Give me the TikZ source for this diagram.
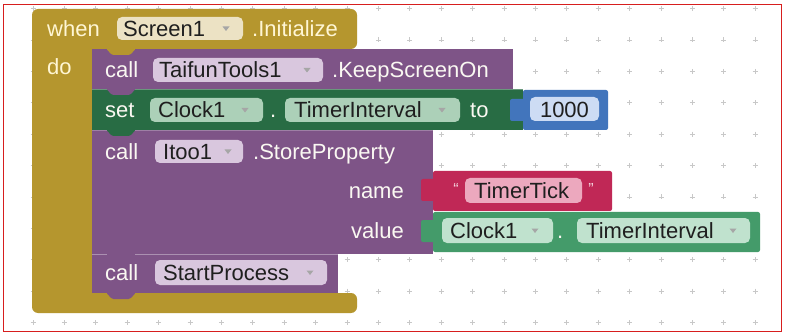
\documentclass[tikz,border=0pt]{standalone}
\usepackage{fontspec}
\setmainfont{Liberation Sans}
\definecolor{ctrl}{RGB}{181,150,46}
\definecolor{ctrlpill}{RGB}{236,226,196}
\definecolor{proc}{RGB}{126,84,135}
\definecolor{procpill}{RGB}{217,199,222}
\definecolor{setg}{RGB}{40,108,68}
\definecolor{setpill}{RGB}{172,208,184}
\definecolor{getg}{RGB}{68,155,106}
\definecolor{getpill}{RGB}{192,226,206}
\definecolor{mathb}{RGB}{66,117,188}
\definecolor{mathpill}{RGB}{205,220,244}
\definecolor{txtr}{RGB}{192,40,86}
\definecolor{txtpill}{RGB}{236,168,190}
\definecolor{labw}{RGB}{250,248,242}
\definecolor{goldtxt}{RGB}{255,246,212}
\definecolor{gridc}{RGB}{200,200,200}
\definecolor{framec}{RGB}{215,30,30}
\newcommand\ddarr[1]{\fill[black!35] (#1) +(-3.5,-2) -- +(3.5,-2) -- +(0,2.5) -- cycle;}
\newcommand\nubtab[3]{\fill[#1, rounded corners=1.5pt, shift={(#2,#3)}] (14,-0.5) -- (44,-0.5) -- (38,6) -- (20,6) -- cycle;}
\begin{document}
\begin{tikzpicture}[x=1pt,y=-1pt,
  lab/.style={anchor=base west, inner sep=0pt, font=\fontsize{22}{26}\selectfont, text=labw},
  glab/.style={lab, text=goldtxt},
  ptxt/.style={lab, text=black!88},
  pillbox/.style={rounded corners=5pt},
  quot/.style={anchor=base, inner sep=0pt, font=\fontsize{16}{18}\selectfont, text=white!80!txtr}]
\fill[white] (0,0) rectangle (785,334);
% grid
\foreach \i in {0,...,23}{
  \foreach \j in {-1,...,9}{
    \draw[gridc, line width=0.8pt] ({33+31.4*\i},{40+31.4*\j}) +(-2.5,0) -- +(2.5,0) +(0,-2.5) -- +(0,2.5);
  }
}
\draw[framec, line width=1.2pt] (3.5,4.5) rectangle (781.5,331.5);

% event block
\fill[ctrl, rounded corners=6pt] (32,9) -- (357,9) -- (357,49) -- (92,49) -- (92,293) -- (357,293) -- (357,313) -- (32,313) -- cycle;

% statement blocks
\fill[proc] (92,49) rectangle (513,89);
\nubtab{ctrl}{92}{49}
\fill[setg] (92,89) rectangle (523,130);
\draw[setg!70!white, line width=0.8pt] (92,89.5) -- (523,89.5);
\nubtab{proc}{92}{89}
\fill[proc] (92,130) rectangle (433,254);
\draw[proc!75!white, line width=0.8pt] (92,130.5) -- (433,130.5);
\nubtab{setg}{92}{130}
\fill[proc] (92,254) rectangle (338,293);
\draw[proc!65!white, line width=0.8pt] (92,254.5) -- (338,254.5);
\nubtab{proc}{92}{254}
\nubtab{proc}{92}{293}

% value blocks
\fill[mathb, rounded corners=2pt] (510,99) rectangle (526,121);
\fill[mathb, rounded corners=2pt] (523,90) rectangle (608,130);
\fill[txtr, rounded corners=2pt] (421,179) rectangle (436,201);
\fill[txtr, rounded corners=2pt] (433,171) rectangle (612,211);
\fill[getg, rounded corners=2pt] (421,220) rectangle (436,242);
\fill[getg, rounded corners=2pt] (433,212) rectangle (760,252);

% pills
\fill[ctrlpill, pillbox] (117,17) rectangle (243,40);
\fill[procpill, pillbox] (153,58) rectangle (323,82);
\fill[setpill, pillbox] (150,98) rectangle (263,122);
\fill[setpill, pillbox] (285,98) rectangle (460,122);
\fill[mathpill, pillbox] (530,97) rectangle (599,121);
\fill[procpill, pillbox] (155,140) rectangle (243,163);
\fill[txtpill, pillbox] (465,178) rectangle (582,203);
\fill[getpill, pillbox] (442,218) rectangle (553,243);
\fill[getpill, pillbox] (577,218) rectangle (750,243);
\fill[procpill, pillbox] (155,260) rectangle (327,285);

% arrows
\ddarr{226,28.5}
\ddarr{307,70}
\ddarr{245,110}
\ddarr{442,110}
\ddarr{228,151.5}
\ddarr{535,230.5}
\ddarr{733,230.5}
\ddarr{310,272.5}

% labels
\node[glab] (when) at (47,36.5) {when};
\node[ptxt] (scr) at (123,36.5) {Screen1};
\node[glab] (init) at (252,36.5) {.Initialize};
\node[glab] (do) at (47,75) {do};

\node[lab] (call1) at (105,77.5) {call};
\node[ptxt] (taif) at (159,77.5) {TaifunTools1};
\node[lab] (keep) at (332,77.5) {.KeepScreenOn};

\node[lab] (set) at (105,118) {set};
\node[ptxt] (clk1) at (158,118) {Clock1};
\node[lab] (dot1) at (270,118) {.};
\node[ptxt] (ti1) at (294,118) {TimerInterval};
\node[lab] (to) at (470,118) {to};
\node[ptxt, anchor=base] (num) at (564.5,118) {1000};

\node[lab] (call2) at (105,159.5) {call};
\node[ptxt] (itoo) at (163,159.5) {Itoo1};
\node[lab] (store) at (253,159.5) {.StoreProperty};
\node[lab, anchor=base east] (name) at (404,198.5) {name};
\node[lab, anchor=base east] (value) at (404,238.5) {value};

\node[quot] (q1) at (456,195) {\char"201C};
\node[ptxt] (tick) at (474,198.5) {TimerTick};
\node[quot] (q2) at (591,195) {\char"201D};

\node[ptxt] (clk2) at (450,238.5) {Clock1};
\node[lab] (dot2) at (557,238.5) {.};
\node[ptxt] (ti2) at (586,238.5) {TimerInterval};

\node[lab] (call3) at (105,280.5) {call};
\node[ptxt] (start) at (163,280.5) {StartProcess};
\end{tikzpicture}
\end{document}
